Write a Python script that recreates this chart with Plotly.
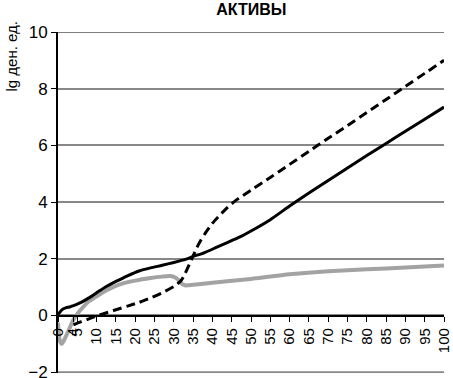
import plotly.graph_objects as go

# ---- data ----
t_solid = [0, 1, 2, 3, 4, 5, 6, 8, 10, 12, 15, 18, 21, 24, 27, 30, 33, 35, 38, 41, 44, 47, 50,
           55, 60, 65, 70, 75, 80, 85, 90, 95, 100]
v_solid = [0.03, 0.2, 0.27, 0.3, 0.35, 0.4, 0.46, 0.62, 0.8, 0.98, 1.2, 1.4, 1.57, 1.68, 1.77,
           1.87, 1.98, 2.08, 2.22, 2.4, 2.58, 2.76, 2.98, 3.38, 3.86, 4.32, 4.76, 5.2, 5.64,
           6.07, 6.5, 6.92, 7.35]

t_dash = [4, 6, 8, 10, 12, 15, 18, 21, 24, 27, 30, 31, 32, 33, 34, 35, 36, 37, 38, 40, 42, 44,
          46, 50, 55, 60, 65, 70, 75, 80, 85, 90, 95, 100]
v_dash = [-0.33, -0.22, -0.12, -0.02, 0.07, 0.2, 0.33, 0.46, 0.62, 0.8, 1.02, 1.12, 1.25, 1.5,
          1.8, 2.1, 2.4, 2.65, 2.87, 3.25, 3.55, 3.82, 4.05, 4.42, 4.87, 5.33, 5.79, 6.25, 6.7,
          7.16, 7.62, 8.08, 8.54, 9.0]

t_gray = [0, 0.5, 1, 2, 3, 4, 5, 6, 8, 10, 13, 16, 20, 24, 27, 29, 30, 31, 32, 33, 35, 40, 50,
          60, 70, 80, 90, 100]
v_gray = [-0.25, -0.9, -1.0, -0.75, -0.45, -0.15, 0.05, 0.22, 0.5, 0.68, 0.92, 1.1, 1.23, 1.32,
          1.37, 1.39, 1.36, 1.28, 1.12, 1.06, 1.08, 1.15, 1.29, 1.45, 1.56, 1.63, 1.69, 1.76]

x_ticks = [0, 4, 5, 10, 15, 20, 25, 30, 35, 40, 45, 50, 55, 60, 65, 70, 75, 80, 85, 90, 95, 100]
x_labels = [str(v) for v in x_ticks]
y_ticks = [-2, 0, 2, 4, 6, 8, 10]

title = "АКТИВЫ"
y_title = "lg ден. ед."

fig = go.Figure()
fig.add_trace(go.Scatter(x=t_gray, y=v_gray, mode="lines",
                         line=dict(color="#a3a3a3", width=4, shape="spline", smoothing=0.6),
                         showlegend=False, hoverinfo="skip"))
fig.add_trace(go.Scatter(x=t_dash, y=v_dash, mode="lines",
                         line=dict(color="black", width=3, dash="9px,5px", shape="spline", smoothing=0.6),
                         showlegend=False, hoverinfo="skip"))
fig.add_trace(go.Scatter(x=t_solid, y=v_solid, mode="lines",
                         line=dict(color="black", width=3, shape="spline", smoothing=0.6),
                         showlegend=False, hoverinfo="skip"))

# gridline styling as in the reference: darker at 10 and 2, gray line at the bottom (-2)
for yv, col, w in ((10, "black", 1), (2, "black", 1), (-2, "#888888", 2)):
    fig.add_shape(type="line", xref="paper", yref="y", x0=0, x1=1, y0=yv, y1=yv,
                  line=dict(color=col, width=w), layer="below")

fig.update_layout(
    width=453, height=378,
    margin=dict(l=58, r=9, t=32, b=5, autoexpand=False),
    paper_bgcolor="white", plot_bgcolor="white",
    font=dict(family="Liberation Sans, Arial, sans-serif", color="black"),
    title=dict(text="<b>" + title + "</b>", x=0.555, xanchor="center", y=0.99, yanchor="top",
               font=dict(size=16, color="black")),
    xaxis=dict(range=[0, 100], tickvals=x_ticks, ticktext=x_labels, tickangle=-90,
               tickfont=dict(size=15), showgrid=False, zeroline=False,
               showline=True, linecolor="black", linewidth=2,
               ticks="outside", ticklen=5, tickcolor="black", tickwidth=1,
               anchor="free", position=2/12, automargin=False),
    yaxis=dict(range=[-2.03, 10], tickvals=y_ticks, tickfont=dict(size=17),
               showgrid=True, gridcolor="#888888", gridwidth=2, zeroline=False,
               showline=True, linecolor="black", linewidth=2,
               ticks="outside", ticklen=5, tickcolor="black", tickwidth=1,
               ticklabeloverflow="allow",
               domain=[0, 1], automargin=False),
    annotations=[dict(text=y_title, textangle=-90, xref="paper", yref="paper",
                      x=-0.12, y=0.93, xanchor="center", yanchor="middle",
                      showarrow=False, font=dict(size=15, color="black"))],
)

fig.write_html("out.html", post_script="document.body.style.margin='0';",
               config={"displayModeBar": False})
